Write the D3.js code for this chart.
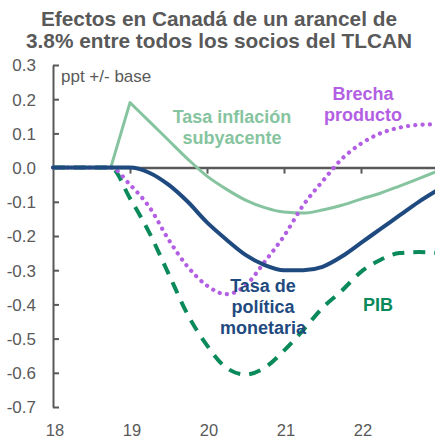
<!DOCTYPE html>
<html lang="es">
<head>
<meta charset="UTF-8">
<title>Efectos en Canadá de un arancel</title>
<script src="https://d3js.org/d3.v7.min.js"></script>
<style>
    body { margin: 0; background: #fff; }
    svg { display: block; font-family: "Liberation Sans", Arial, sans-serif; }
</style>
</head>
<body>
<div id="chart"></div>
<script>
// quarterly points, x in years (18 = 2018)
const quarters = [18, 18.25, 18.5, 18.75, 19, 19.25, 19.5, 19.75, 20, 20.25, 20.5, 20.75,
    21, 21.25, 21.5, 21.75, 22, 22.25, 22.5, 22.75, 23];

const inflacion = [0, 0, 0, 0, 0.19, 0.135, 0.08, 0.025, -0.025, -0.063, -0.095, -0.117,
    -0.13, -0.133, -0.124, -0.11, -0.092, -0.075, -0.054, -0.032, -0.01];
const tasaPolitica = [0, 0, 0, 0, 0, -0.015, -0.05, -0.1, -0.16, -0.21, -0.255, -0.285,
    -0.3, -0.3, -0.29, -0.26, -0.22, -0.18, -0.14, -0.1, -0.065];
const brecha = [0, 0, 0, 0, -0.05, -0.115, -0.21, -0.29, -0.345, -0.37, -0.345, -0.275,
    -0.2, -0.11, -0.04, 0.025, 0.07, 0.1, 0.117, 0.125, 0.127];
const pib = [0, 0, 0, 0, -0.09, -0.19, -0.31, -0.43, -0.52, -0.585, -0.605, -0.585,
    -0.535, -0.475, -0.41, -0.36, -0.305, -0.27, -0.25, -0.247, -0.25];

const yTicks = [0.3, 0.2, 0.1, 0.0, -0.1, -0.2, -0.3, -0.4, -0.5, -0.6, -0.7];
const xTicks = [18, 19, 20, 21, 22];
const titleLines = ["Efectos en Canadá de un arancel de", "3.8% entre todos los socios del TLCAN"];

const width = 435, height = 440;
const gray = "#595959";

const svg = d3.select("#chart").append("svg")
    .attr("width", width)
    .attr("height", height);

const x = d3.scaleLinear().domain([18, 23]).range([53, 438]);
const y = d3.scaleLinear().domain([-0.7, 0.3]).range([407, 65]);

// title
svg.append("g").selectAll("text")
    .data(titleLines)
    .enter().append("text")
    .attr("x", 219)
    .attr("y", (d, i) => 26 + i * 22)
    .attr("text-anchor", "middle")
    .attr("font-size", 20.8)
    .attr("font-weight", "bold")
    .attr("fill", gray)
    .text(d => d);

// y axis, ticks pointing inward
const yAxis = svg.append("g")
    .attr("transform", `translate(${x(18)},0)`)
    .call(d3.axisRight(y).tickValues(yTicks).tickSize(6).tickSizeOuter(0));
yAxis.select(".domain").attr("stroke", gray).attr("stroke-width", 2);
yAxis.selectAll(".tick line").attr("stroke", gray).attr("stroke-width", 2);
yAxis.selectAll(".tick text")
    .attr("x", -17)
    .attr("dy", "0.35em")
    .attr("text-anchor", "end")
    .attr("font-size", 17)
    .attr("font-family", "Liberation Sans, Arial, sans-serif")
    .attr("fill", gray)
    .text(d => d3.format(".1f")(d).replace("−", "-"));

// x axis sits on zero, labels at the bottom
const xAxis = svg.append("g")
    .attr("transform", `translate(0,${y(0)})`)
    .call(d3.axisBottom(x).tickValues([19, 20, 21, 22, 23]).tickSize(6).tickSizeOuter(0).tickFormat(""));
xAxis.select(".domain").attr("stroke", gray).attr("stroke-width", 2.5);
xAxis.selectAll(".tick line").attr("stroke", gray).attr("stroke-width", 2);

svg.append("g").selectAll("text")
    .data(xTicks)
    .enter().append("text")
    .attr("x", d => x(d) + 2)
    .attr("y", 436)
    .attr("text-anchor", "middle")
    .attr("font-size", 16.5)
    .attr("fill", gray)
    .text(d => d);

svg.append("text")
    .attr("x", 61)
    .attr("y", 82)
    .attr("font-size", 17)
    .attr("fill", gray)
    .text("ppt +/- base");

const linear = d3.line().x(d => x(d[0])).y(d => y(d[1]));
const smooth = d3.line().x(d => x(d[0])).y(d => y(d[1])).curve(d3.curveMonotoneX);
const pairs = vals => quarters.map((q, i) => [q, vals[i]]);

// inflation has a sharp jump up to 19, smooth after it
const inflPts = pairs(inflacion);
const inflPath = linear(inflPts.slice(0, 5)) + smooth(inflPts.slice(4)).replace(/^M/, "L");

const series = [
    { d: inflPath, color: "#86c4a0", width: 3, dash: null, cap: "butt" },
    { d: smooth(pairs(pib)), color: "#0a8a5a", width: 4, dash: "12,9", cap: "butt" },
    { d: smooth(pairs(brecha)), color: "#b25fe3", width: 4.2, dash: "0.1,7.2", cap: "round" },
    { d: smooth(pairs(tasaPolitica)), color: "#1f4a7f", width: 4, dash: null, cap: "round" }
];

svg.append("g").selectAll("path")
    .data(series)
    .enter().append("path")
    .attr("d", d => d.d)
    .attr("fill", "none")
    .attr("stroke", d => d.color)
    .attr("stroke-width", d => d.width)
    .attr("stroke-dasharray", d => d.dash)
    .attr("stroke-linecap", d => d.cap)
    .attr("stroke-linejoin", "round");

// series labels
const labels = [
    { lines: ["Tasa inflación", "subyacente"], x: 232, y: 123, color: "#86c4a0" },
    { lines: ["Brecha", "producto"], x: 363, y: 100, color: "#b25fe3" },
    { lines: ["Tasa de", "política", "monetaria"], x: 263, y: 292, color: "#1f4a7f" },
    { lines: ["PIB"], x: 378, y: 311, color: "#0a8a5a" }
];

labels.forEach(l => {
    l.lines.forEach((t, i) => {
        svg.append("text")
            .attr("x", l.x)
            .attr("y", l.y + i * 21)
            .attr("text-anchor", "middle")
            .attr("font-size", 18)
            .attr("font-weight", "bold")
            .attr("fill", l.color)
            .text(t);
    });
});
</script>
</body>
</html>
